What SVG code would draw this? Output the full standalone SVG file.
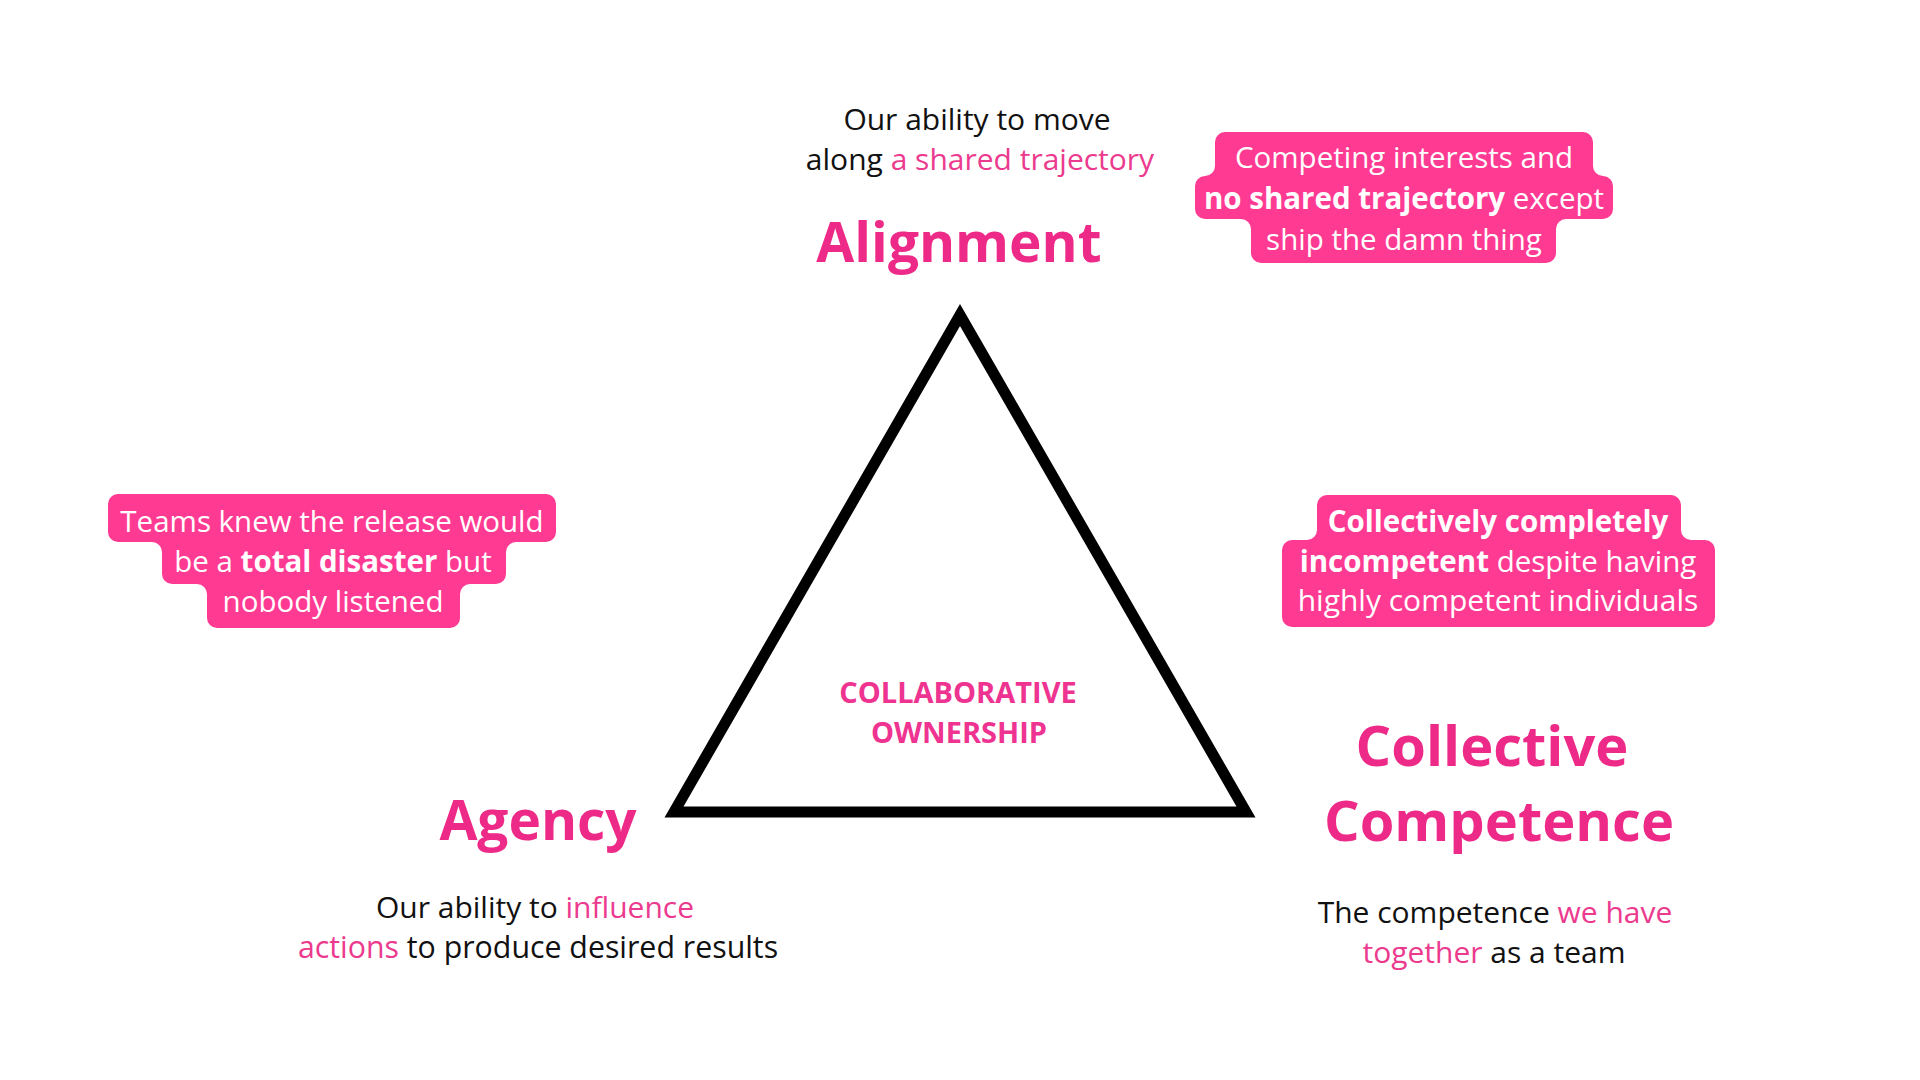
<svg xmlns="http://www.w3.org/2000/svg" width="1920" height="1080" viewBox="0 0 1920 1080">
<style>
text{font-family:"Open Sans","Noto Sans","Liberation Sans",sans-serif;text-anchor:middle}
.title{font-size:55px;font-weight:700;fill:#EE2A88}
.t56{font-size:56px}
.desc{font-size:30px;fill:#111111}
.hl{fill:#EC3A8E}
.box{fill:#FF3A93}
.btxt{font-size:29.5px;fill:#FFFFFF}
.b{font-weight:700}
.center{font-size:29px;font-weight:700;fill:#EE3390}
</style>
<rect width="1920" height="1080" fill="#FFFFFF"/>
<g id="connectors">
<polygon points="960,315 674,812 1246,812" fill="none" stroke="#000000" stroke-width="11" stroke-linejoin="miter" stroke-miterlimit="10"/>
</g>
<g id="node-center">
<text class="center" x="958" y="703">COLLABORATIVE</text>
<text class="center" x="959" y="743">OWNERSHIP</text>
</g>
<g id="node-alignment">
<text class="desc" x="977" y="130">Our ability to move</text>
<text class="desc" x="980" y="170">along <tspan class="hl">a shared trajectory</tspan></text>
<text class="title" x="959" y="262">Alignment</text>
</g>
<g id="note-alignment">
<path class="box" d="M1225 132 H1583 A10 10 0 0 1 1593 142 V166 A10 10 0 0 0 1603 176 A10 10 0 0 1 1613 186 V209 A10 10 0 0 1 1603 219 H1566 A10 10 0 0 0 1556 229 V253 A10 10 0 0 1 1546 263 H1261 A10 10 0 0 1 1251 253 V229 A10 10 0 0 0 1241 219 H1205 A10 10 0 0 1 1195 209 V186 A10 10 0 0 1 1205 176 A10 10 0 0 0 1215 166 V142 A10 10 0 0 1 1225 132 Z"/>
<text class="btxt" x="1404" y="168">Competing interests and</text>
<text class="btxt" x="1404" y="209"><tspan class="b">no shared trajectory</tspan> except</text>
<text class="btxt" x="1404" y="250">ship the damn thing</text>
</g>
<g id="node-agency">
<text class="title" x="538" y="840">Agency</text>
<text class="desc" x="535" y="918">Our ability to <tspan class="hl">influence</tspan></text>
<text class="desc" x="538" y="958" style="font-size:30.3px"><tspan class="hl">actions</tspan> to produce desired results</text>
</g>
<g id="note-agency">
<path class="box" d="M118 494 H546 A10 10 0 0 1 556 504 V532 A10 10 0 0 1 546 542 H516 A10 10 0 0 0 506 552 V574 A10 10 0 0 1 496 584 H470 A10 10 0 0 0 460 594 V618 A10 10 0 0 1 450 628 H217 A10 10 0 0 1 207 618 V594 A10 10 0 0 0 197 584 H172 A10 10 0 0 1 162 574 V552 A10 10 0 0 0 152 542 H118 A10 10 0 0 1 108 532 V504 A10 10 0 0 1 118 494 Z"/>
<text class="btxt" x="332" y="532">Teams knew the release would</text>
<text class="btxt" x="333" y="572">be a <tspan class="b">total disaster</tspan> but</text>
<text class="btxt" x="333" y="612">nobody listened</text>
</g>
<g id="node-competence">
<text class="title t56" x="1492" y="766">Collective</text>
<text class="title t56" x="1499" y="841">Competence</text>
<text class="desc" x="1495" y="923">The competence <tspan class="hl">we have</tspan></text>
<text class="desc" x="1494" y="963"><tspan class="hl">together</tspan> as a team</text>
</g>
<g id="note-competence">
<path class="box" d="M1327 495 H1671 A10 10 0 0 1 1681 505 V530 A10 10 0 0 0 1691 540 H1705 A10 10 0 0 1 1715 550 V617 A10 10 0 0 1 1705 627 H1292 A10 10 0 0 1 1282 617 V550 A10 10 0 0 1 1292 540 H1307 A10 10 0 0 0 1317 530 V505 A10 10 0 0 1 1327 495 Z"/>
<text class="btxt" x="1498" y="532"><tspan class="b">Collectively completely</tspan></text>
<text class="btxt" x="1498" y="572"><tspan class="b">incompetent</tspan> despite having</text>
<text class="btxt" x="1498" y="611" style="font-size:30px">highly competent individuals</text>
</g>
</svg>
